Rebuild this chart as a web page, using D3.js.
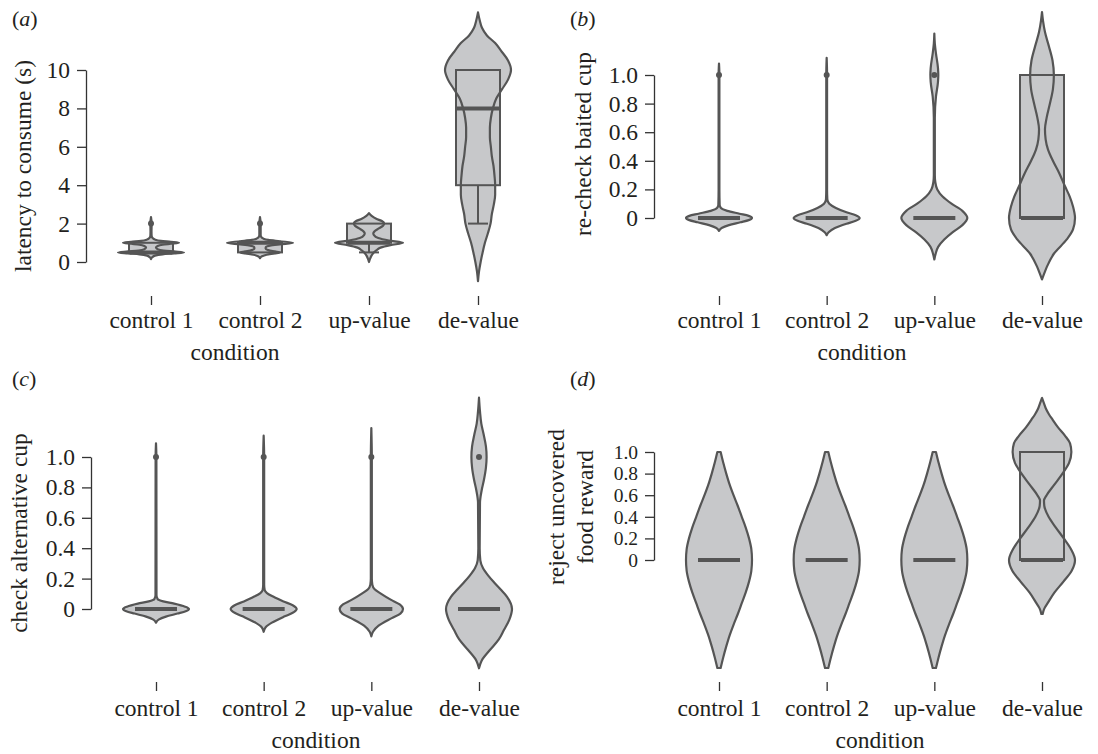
<!DOCTYPE html>
<html>
<head>
<meta charset="utf-8">
<script src="https://cdn.jsdelivr.net/npm/d3@7"></script>
<style>
  body { margin: 0; background: #fff; }
  text { font-family: "Liberation Serif", "Times New Roman", serif; fill: #231f20; }
</style>
</head>
<body>
<script>
w = 1098;
h = 754;

var violinFill = "#c7c8ca";
var violinStroke = "#555555";

var categories = ["control 1", "control 2", "up-value", "de-value"];
var latencyTicks = [0, 2, 4, 6, 8, 10];
var proportionTicks = [0, 0.2, 0.4, 0.6, 0.8, 1.0];

// violin outlines: [value, relative half-width]
var latencyViolins = [
  [[0.15,0],[0.25,0.04],[0.33,0.12],[0.4,0.35],[0.45,0.7],[0.5,1.0],[0.55,0.7],[0.6,0.38],[0.67,0.2],[0.75,0.15],[0.83,0.2],[0.9,0.35],[0.95,0.6],[1.0,0.85],[1.05,0.6],[1.1,0.3],[1.17,0.12],[1.25,0.05],[1.35,0.02],[1.6,0.015],[2.0,0.02],[2.34,0]],
  [[0.2,0],[0.3,0.06],[0.38,0.2],[0.45,0.45],[0.5,0.6],[0.55,0.45],[0.62,0.25],[0.7,0.17],[0.78,0.18],[0.85,0.3],[0.92,0.6],[1.0,1.0],[1.08,0.6],[1.15,0.25],[1.22,0.1],[1.3,0.04],[1.4,0.02],[2.0,0.02],[2.34,0]],
  [[0,0],[0.2,0.04],[0.4,0.1],[0.6,0.22],[0.75,0.35],[0.88,0.65],[1.0,1.03],[1.12,0.6],[1.25,0.28],[1.4,0.15],[1.5,0.13],[1.6,0.17],[1.75,0.3],[1.88,0.42],[2.0,0.46],[2.12,0.4],[2.25,0.22],[2.4,0.08],[2.55,0]],
  [[-1,0],[-0.5,0.03],[0,0.08],[0.5,0.14],[1,0.21],[1.5,0.3],[2,0.38],[2.5,0.42],[3,0.48],[3.5,0.52],[4,0.52],[4.5,0.5],[5,0.47],[5.5,0.42],[6,0.39],[6.5,0.36],[7,0.36],[7.5,0.39],[8,0.45],[8.5,0.55],[9,0.73],[9.5,0.91],[10,1.0],[10.5,0.91],[11,0.7],[11.4,0.52],[11.8,0.27],[12.2,0.12],[12.6,0.05],[13,0]]
];
// [low whisker, q1, median, q3, high whisker]
var latencyBoxes = [[0.5,0.5,0.5,1,1], [0.5,0.5,1,1,1], [0.5,1,1,2,2], [2,4,8,10,10]];
var latencyOutliers = [[2], [2], [], []];

var recheckViolins = [
  [[-0.09,0],[-0.07,0.08],[-0.05,0.3],[-0.03,0.65],[-0.015,0.9],[0,1.0],[0.015,0.9],[0.03,0.62],[0.05,0.25],[0.07,0.06],[0.09,0.02],[0.2,0.012],[1.0,0.012],[1.08,0]],
  [[-0.12,0],[-0.1,0.06],[-0.07,0.25],[-0.04,0.6],[-0.02,0.88],[0,1.0],[0.02,0.88],[0.04,0.6],[0.07,0.28],[0.1,0.08],[0.13,0.02],[0.2,0.012],[1.0,0.012],[1.12,0]],
  [[-0.29,0],[-0.25,0.04],[-0.2,0.12],[-0.15,0.3],[-0.1,0.55],[-0.05,0.85],[0,1.0],[0.05,0.85],[0.1,0.52],[0.15,0.25],[0.2,0.09],[0.25,0.03],[0.3,0.015],[0.7,0.015],[0.85,0.05],[0.95,0.11],[1.0,0.12],[1.05,0.11],[1.15,0.05],[1.22,0.015],[1.29,0]],
  [[-0.43,0],[-0.38,0.08],[-0.34,0.15],[-0.25,0.36],[-0.15,0.75],[-0.08,0.94],[0,1.0],[0.08,0.94],[0.15,0.84],[0.22,0.7],[0.31,0.53],[0.4,0.33],[0.48,0.18],[0.55,0.11],[0.62,0.09],[0.7,0.14],[0.8,0.24],[0.9,0.33],[1.0,0.36],[1.1,0.32],[1.2,0.21],[1.3,0.09],[1.38,0.03],[1.44,0]]
];
var recheckBoxes = [[0,0,0,0,0], [0,0,0,0,0], [0,0,0,0,0], [0,0,0,1,1]];
var recheckOutliers = [[1], [1], [1], []];

var altCupViolins = [
  [[-0.09,0],[-0.07,0.08],[-0.05,0.3],[-0.03,0.65],[-0.015,0.9],[0,1.0],[0.015,0.88],[0.035,0.55],[0.05,0.22],[0.065,0.05],[0.09,0.015],[1.0,0.012],[1.09,0]],
  [[-0.15,0],[-0.12,0.06],[-0.09,0.25],[-0.05,0.62],[-0.025,0.88],[0,1.0],[0.025,0.88],[0.05,0.6],[0.08,0.3],[0.105,0.1],[0.125,0.03],[0.16,0.015],[1.0,0.015],[1.14,0]],
  [[-0.18,0],[-0.15,0.05],[-0.11,0.22],[-0.06,0.62],[-0.03,0.88],[0,0.96],[0.03,0.86],[0.06,0.6],[0.1,0.3],[0.13,0.1],[0.16,0.03],[0.2,0.015],[1.0,0.015],[1.19,0]],
  [[-0.39,0],[-0.34,0.08],[-0.27,0.33],[-0.2,0.6],[-0.14,0.75],[-0.07,0.92],[0,1.0],[0.08,0.85],[0.13,0.65],[0.17,0.48],[0.22,0.28],[0.27,0.12],[0.32,0.04],[0.4,0.02],[0.7,0.03],[0.78,0.08],[0.85,0.15],[0.93,0.21],[1.0,0.23],[1.07,0.21],[1.15,0.14],[1.22,0.07],[1.3,0.03],[1.39,0]]
];
var altCupBoxes = [[0,0,0,0,0], [0,0,0,0,0], [0,0,0,0,0], [0,0,0,0,0]];
var altCupOutliers = [[1], [1], [1], [1]];

var rejectViolins = [
  [[-1.0,0.05],[-0.9,0.13],[-0.8,0.22],[-0.7,0.32],[-0.6,0.44],[-0.5,0.57],[-0.4,0.69],[-0.3,0.81],[-0.2,0.91],[-0.1,0.98],[0,1.0],[0.1,0.98],[0.2,0.91],[0.3,0.81],[0.4,0.69],[0.5,0.57],[0.6,0.44],[0.7,0.32],[0.8,0.22],[0.9,0.13],[1.0,0.05]],
  [[-1.0,0.05],[-0.9,0.13],[-0.8,0.22],[-0.7,0.32],[-0.6,0.44],[-0.5,0.57],[-0.4,0.69],[-0.3,0.81],[-0.2,0.91],[-0.1,0.98],[0,1.0],[0.1,0.98],[0.2,0.91],[0.3,0.81],[0.4,0.69],[0.5,0.57],[0.6,0.44],[0.7,0.32],[0.8,0.22],[0.9,0.13],[1.0,0.05]],
  [[-1.0,0.05],[-0.9,0.13],[-0.8,0.22],[-0.7,0.32],[-0.6,0.44],[-0.5,0.57],[-0.4,0.69],[-0.3,0.81],[-0.2,0.91],[-0.1,0.98],[0,1.0],[0.1,0.98],[0.2,0.91],[0.3,0.81],[0.4,0.69],[0.5,0.57],[0.6,0.44],[0.7,0.32],[0.8,0.22],[0.9,0.13],[1.0,0.05]],
  [[-0.5,0.02],[-0.45,0.07],[-0.4,0.17],[-0.3,0.38],[-0.2,0.65],[-0.1,0.9],[0,1.0],[0.1,0.88],[0.2,0.66],[0.3,0.42],[0.4,0.2],[0.5,0.07],[0.55,0.06],[0.6,0.14],[0.7,0.38],[0.8,0.62],[0.9,0.82],[1.0,0.89],[1.08,0.85],[1.15,0.7],[1.23,0.48],[1.3,0.32],[1.35,0.21],[1.4,0.12],[1.45,0.06],[1.5,0]]
];
var rejectBoxes = [[0,0,0,0,0], [0,0,0,0,0], [0,0,0,0,0], [0,0,0,1,1]];
var rejectOutliers = [[], [], [], []];

// layout of the four panels
var panels = [
  {letter: "a", ylabel: ["latency to consume (s)"], ylabelX: [31], ylabelY: 166,
   violins: latencyViolins, boxes: latencyBoxes, outliers: latencyOutliers, ticks: latencyTicks,
   axisX: 86, yRange: [262, 70], xRange: [151, 478], tickY: 296, labelY: 328,
   condX: 235, condY: 360, letterX: 12, letterY: 26, tickFont: 23.5},
  {letter: "b", ylabel: ["re-check baited cup"], ylabelX: [591], ylabelY: 144,
   violins: recheckViolins, boxes: recheckBoxes, outliers: recheckOutliers, ticks: proportionTicks,
   axisX: 654, yRange: [218, 75], xRange: [719, 1042], tickY: 296, labelY: 328,
   condX: 862, condY: 360, letterX: 570, letterY: 26, tickFont: 23.5},
  {letter: "c", ylabel: ["check alternative cup"], ylabelX: [27], ylabelY: 533,
   violins: altCupViolins, boxes: altCupBoxes, outliers: altCupOutliers, ticks: proportionTicks,
   axisX: 91, yRange: [609, 457], xRange: [156, 479], tickY: 682, labelY: 716,
   condX: 316, condY: 748, letterX: 12, letterY: 386, tickFont: 23.5},
  {letter: "d", ylabel: ["reject uncovered", "food reward"], ylabelX: [564, 593], ylabelY: 507,
   violins: rejectViolins, boxes: rejectBoxes, outliers: rejectOutliers, ticks: proportionTicks,
   axisX: 654, yRange: [560, 452], xRange: [719, 1042], tickY: 682, labelY: 716,
   condX: 880, condY: 748, letterX: 570, letterY: 386, tickFont: 19.5}
];

var fontSize = 23.5;
var boxHalf = 22;

var svg = d3.select('body').append('svg').attr('width', w).attr('height', h);

for (var p = 0; p < panels.length; p++) {
  var P = panels[p];
  var g = svg.append('g');

  var y = d3.scaleLinear().domain([0, d3.max(P.ticks)]).range(P.yRange);
  var x = d3.scalePoint().domain(categories).range(P.xRange);
  var wScale = d3.scaleLinear().domain([0, 1]).range([0, 33]);

  // y axis
  var yAxis = d3.axisLeft(y).tickValues(P.ticks).tickSize(9).tickSizeOuter(0).tickPadding(7)
      .tickFormat(function(d) { return d === 0 ? "0" : (d >= 2 ? d3.format("d")(d) : d3.format(".1f")(d)); });
  var ya = g.append('g').attr('transform', 'translate(' + P.axisX + ',0)').call(yAxis);
  ya.selectAll('text').attr('font-size', P.tickFont).attr('fill', '#231f20');
  ya.selectAll('line').attr('stroke', '#333').attr('stroke-width', 1.3);
  ya.select('.domain').attr('stroke', '#333').attr('stroke-width', 1.3);
  ya.attr('font-family', null).attr('font-size', null);

  // x axis (ticks only)
  var pad = P.labelY - P.tickY - 9 - 0.71 * fontSize;
  var xAxis = d3.axisBottom(x).tickSize(9).tickPadding(pad);
  var xa = g.append('g').attr('transform', 'translate(0,' + P.tickY + ')').call(xAxis);
  xa.select('.domain').remove();
  xa.selectAll('text').attr('font-size', fontSize).attr('fill', '#231f20');
  xa.selectAll('line').attr('stroke', '#333').attr('stroke-width', 1.3);
  xa.attr('font-family', null).attr('font-size', null);

  g.append('text')
      .attr('x', P.condX).attr('y', P.condY)
      .attr('text-anchor', 'middle').attr('font-size', fontSize)
      .text('condition');

  for (var k = 0; k < P.ylabel.length; k++) {
    g.append('text')
        .attr('transform', 'translate(' + P.ylabelX[k] + ',' + P.ylabelY + ') rotate(-90)')
        .attr('text-anchor', 'middle').attr('font-size', fontSize)
        .text(P.ylabel[k]);
  }

  var lt = g.append('text').attr('x', P.letterX).attr('y', P.letterY).attr('font-size', 22);
  lt.append('tspan').text('(');
  lt.append('tspan').attr('font-style', 'italic').text(P.letter);
  lt.append('tspan').text(')');

  // violins + boxes
  for (var i = 0; i < categories.length; i++) {
    var cx = x(categories[i]);
    var b = P.boxes[i];

    if (b[3] > b[1]) {
      g.append('rect')
          .attr('x', cx - boxHalf).attr('y', y(b[3]))
          .attr('width', boxHalf * 2).attr('height', y(b[1]) - y(b[3]))
          .attr('fill', violinFill);
    }

    var area = d3.area()
        .y(function(d) { return y(d[0]); })
        .x0((function(c) { return function(d) { return c - wScale(d[1]); }; })(cx))
        .x1((function(c) { return function(d) { return c + wScale(d[1]); }; })(cx))
        .curve(d3.curveMonotoneY);

    g.append('path')
        .attr('d', area(P.violins[i]))
        .attr('fill', violinFill)
        .attr('stroke', violinStroke)
        .attr('stroke-width', 2.2)
        .attr('stroke-linejoin', 'round');

    if (b[3] > b[1]) {
      g.append('rect')
          .attr('x', cx - boxHalf).attr('y', y(b[3]))
          .attr('width', boxHalf * 2).attr('height', y(b[1]) - y(b[3]))
          .attr('fill', 'none').attr('stroke', violinStroke).attr('stroke-width', 2);
    }

    // whiskers and caps
    var wh = [[b[1], b[0]], [b[3], b[4]]];
    for (var j = 0; j < 2; j++) {
      if (wh[j][0] === wh[j][1]) continue;
      g.append('line')
          .attr('x1', cx).attr('x2', cx)
          .attr('y1', y(wh[j][0])).attr('y2', y(wh[j][1]))
          .attr('stroke', violinStroke).attr('stroke-width', 2);
      g.append('line')
          .attr('x1', cx - 10).attr('x2', cx + 10)
          .attr('y1', y(wh[j][1])).attr('y2', y(wh[j][1]))
          .attr('stroke', violinStroke).attr('stroke-width', 2);
    }

    // median
    g.append('line')
        .attr('x1', cx - boxHalf + 1).attr('x2', cx + boxHalf - 1)
        .attr('y1', y(b[2])).attr('y2', y(b[2]))
        .attr('stroke', violinStroke).attr('stroke-width', 4);

    g.selectAll(null).data(P.outliers[i]).enter()
        .append('circle')
        .attr('cx', cx).attr('cy', function(d) { return y(d); })
        .attr('r', 3)
        .attr('fill', violinStroke);
  }
}
</script>
</body>
</html>
